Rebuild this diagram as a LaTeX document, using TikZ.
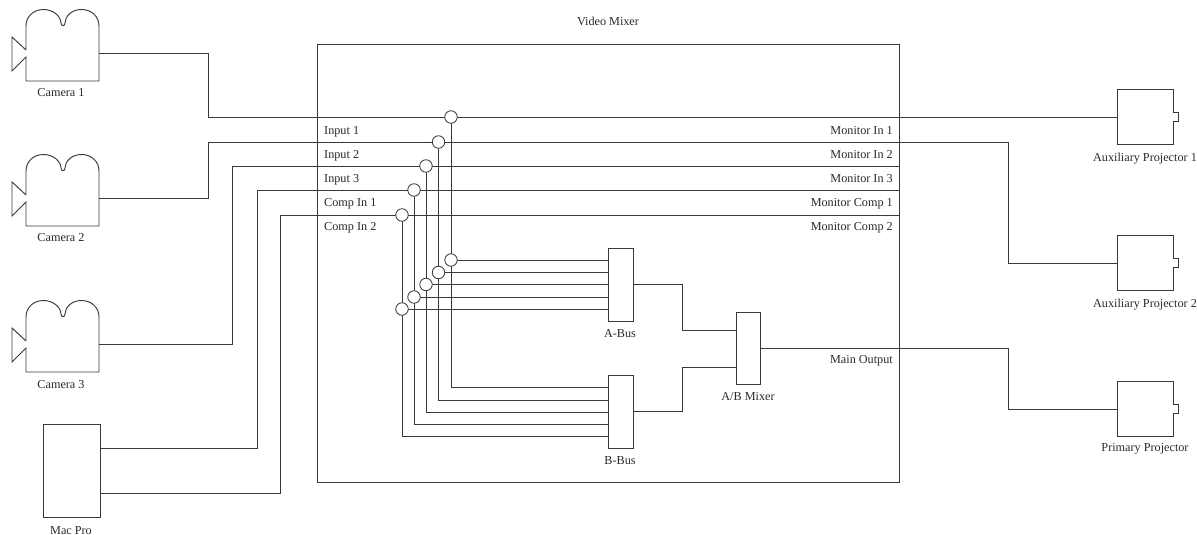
\documentclass[tikz,border=0pt]{standalone}
\usepackage{fontspec}
\setmainfont{Liberation Serif}
\definecolor{ink}{HTML}{3A3A3A}
\definecolor{txt}{HTML}{2A2A2A}
\tikzset{
  wire/.style={draw=ink,line width=0.95pt,line join=miter},
  boxshape/.style={draw=ink,line width=0.95pt,fill=white,rectangle,inner sep=0pt,outer sep=0pt,anchor=north west},
  tap/.style={circle,draw=ink,line width=0.8pt,fill=white,minimum size=12.5pt,inner sep=0pt,outer sep=0pt},
  lab/.style={font=\fontsize{12.2}{14}\selectfont,text=txt,inner sep=0pt,anchor=base},
  labl/.style={lab,anchor=base west},
  labr/.style={lab,anchor=base east},
}
\newcommand{\camera}[2]{%
  \node[minimum width=73pt,minimum height=55pt,inner sep=0pt,outer sep=0pt,anchor=north west] (#1) at (26,#2) {};
  \begin{scope}[shift={(26,#2)}]
  \draw[wire] (0,24) -- (-14,11) -- (-14,45) -- (0,31) -- (0,55) -- (73,55) -- (73,0)
    .. controls (73,-9) and (66,-16.5) .. (55.5,-16.5)
    .. controls (45,-16.5) and (39,-9) .. (39,-3)
    .. controls (39,0.5) and (35,0.5) .. (35,-3)
    .. controls (35,-9) and (28,-16.5) .. (17.5,-16.5)
    .. controls (7,-16.5) and (0,-9) .. (0,0) -- (0,6) -- (0,24);
  \end{scope}
}
\newcommand{\projector}[2]{%
  \node[minimum width=56pt,minimum height=55pt,inner sep=0pt,outer sep=0pt,anchor=north west] (#1) at (1117,#2) {};
  \draw[wire] (#1.south west) -- (#1.north west) -- (#1.north east) -- ++(0,23) -- ++(5.5,0) -- ++(0,9) -- ++(-5.5,0) -- (#1.south east) -- cycle;
}
\begin{document}
\begin{tikzpicture}[x=1pt,y=-1pt]
\useasboundingbox (0,0) rectangle (1197,535);
% mixer frame
\node[boxshape,minimum width=582pt,minimum height=438pt] (mixer) at (317,44) {};
% sources and sinks
\camera{cam1}{26}
\camera{cam2}{171}
\camera{cam3}{317}
\node[boxshape,minimum width=57pt,minimum height=93pt] (mac) at (43,424) {};
\projector{aux1}{89.5}
\projector{aux2}{235.5}
\projector{prim}{381.5}
\node[boxshape,minimum width=25pt,minimum height=73pt] (abus) at (608,248) {};
\node[boxshape,minimum width=25pt,minimum height=73pt] (bbus) at (608,375) {};
\node[boxshape,minimum width=24pt,minimum height=72pt] (abmix) at (736,312) {};
% waypoints
\coordinate (t1) at (451,117);
\coordinate (t2) at (438.5,142);
\coordinate (t3) at (426,166);
\coordinate (t4) at (414,190);
\coordinate (t5) at (402,215);
\coordinate (a1) at (451,260);
\coordinate (a2) at (438.5,272.5);
\coordinate (a3) at (426,284.5);
\coordinate (a4) at (414,297);
\coordinate (a5) at (402,309);
\coordinate (b1) at (608,387);
\coordinate (b2) at (608,400);
\coordinate (b3) at (608,412);
\coordinate (b4) at (608,424);
\coordinate (b5) at (608,436);
\coordinate (e3) at (899,166);
\coordinate (e4) at (899,190);
\coordinate (e5) at (899,215);
% input wires
\draw[wire] (cam1.east) -- (208,53.5) -- (208,117) -- (aux1.west);
\draw[wire] (cam2.east) -- (208,198.5) -- (208,142) -- (1008,142) -- (1008,263) -- (aux2.west);
\draw[wire] (cam3.east) -- (232,344.5) -- (232,166) -- (e3);
\draw[wire] (mac.east |- 0,448) -- (257,448) -- (257,190) -- (e4);
\draw[wire] (mac.east |- 0,493) -- (280,493) -- (280,215) -- (e5);
% verticals
\foreach \i/\j in {1/b1,2/b2,3/b3,4/b4,5/b5}{
  \draw[wire] (t\i) |- (\j);
  \draw[wire] (a\i) -- (a\i -| abus.west);
}
% bus outputs
\draw[wire] (abus.east) -- (682,284.5) -- (682,330) -- (abmix.west |- 0,330);
\draw[wire] (bbus.east) -- (682,411.5) -- (682,367) -- (abmix.west |- 0,367);
\draw[wire] (abmix.east) -- (1008,348) -- (1008,409) -- (prim.west);
% tap circles
\foreach \i in {1,...,5}{
  \node[tap] (ct\i) at (t\i) {};
  \node[tap] (ca\i) at (a\i) {};
}
% labels
\node[lab] (l0) at (608,26) {Video Mixer};
\node[lab] (l1) at (61,96) {Camera 1};
\node[lab] (l2) at (61,241) {Camera 2};
\node[lab] (l3) at (61,388) {Camera 3};
\node[lab] (l4) at (71,534) {Mac Pro};
\node[labl] (i1) at (324,134) {Input 1};
\node[labl] (i2) at (324,158) {Input 2};
\node[labl] (i3) at (324,182) {Input 3};
\node[labl] (i4) at (324,206) {Comp In 1};
\node[labl] (i5) at (324,230) {Comp In 2};
\node[labr] (m1) at (893,134) {Monitor In 1};
\node[labr] (m2) at (893,158) {Monitor In 2};
\node[labr] (m3) at (893,182) {Monitor In 3};
\node[labr] (m4) at (893,206) {Monitor Comp 1};
\node[labr] (m5) at (893,230) {Monitor Comp 2};
\node[labr] (mo) at (893,363) {Main Output};
\node[lab] (la) at (620,337) {A-Bus};
\node[lab] (lb) at (620,464) {B-Bus};
\node[lab] (lm) at (748,400) {A/B Mixer};
\node[lab] (p1) at (1145,161) {Auxiliary Projector 1};
\node[lab] (p2) at (1145,307) {Auxiliary Projector 2};
\node[lab] (p3) at (1145,451) {Primary Projector};
\end{tikzpicture}
\end{document}
